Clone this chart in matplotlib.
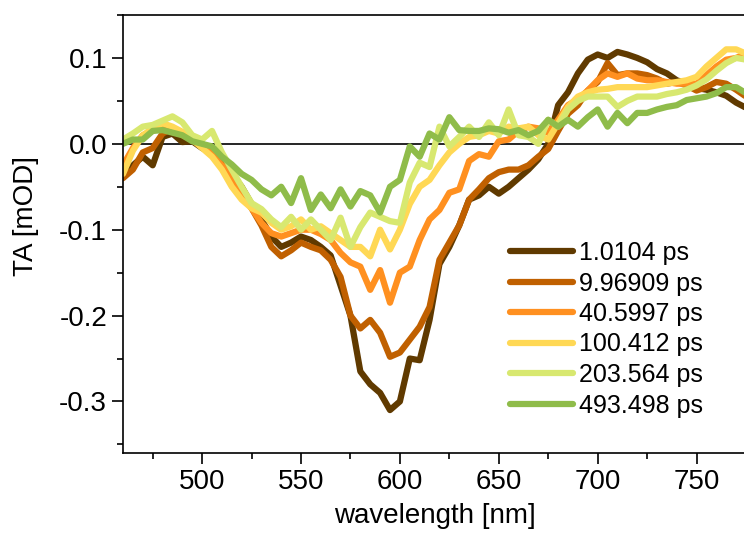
import numpy as np
import matplotlib
matplotlib.use("Agg")
import matplotlib.pyplot as plt
from matplotlib.ticker import MultipleLocator, FormatStrFormatter

plt.rcParams['font.family'] = ['Liberation Sans', 'DejaVu Sans']
plt.rcParams['axes.unicode_minus'] = False

# wavelength grid (nm)
wavelength = np.arange(460, 776, 5)

labels = ["1.0104 ps", "9.96909 ps", "40.5997 ps", "100.412 ps", "203.564 ps", "493.498 ps"]
colors = ["#603a00", "#c06000", "#ff9020", "#ffd855", "#d8e870", "#8fbc4a"]

ta_1ps = [-0.035, -0.025, -0.015, -0.025, 0.008, 0.012, 0.002, 0.003, -0.005, -0.010,
          -0.020, -0.035, -0.050, -0.070, -0.088, -0.108, -0.120, -0.115, -0.108, -0.112,
          -0.120, -0.130, -0.165, -0.200, -0.265, -0.280, -0.290, -0.310, -0.300, -0.250,
          -0.252, -0.205, -0.140, -0.120, -0.095, -0.065, -0.060, -0.050, -0.058, -0.050,
          -0.040, -0.030, -0.018, 0.000, 0.045, 0.060, 0.082, 0.098, 0.104, 0.100,
          0.107, 0.104, 0.100, 0.095, 0.087, 0.082, 0.074, 0.070, 0.065, 0.063,
          0.060, 0.056, 0.048, 0.042]

ta_10ps = [-0.040, -0.030, -0.010, -0.005, 0.012, 0.018, 0.010, 0.005, 0.000, -0.008,
           -0.020, -0.035, -0.055, -0.075, -0.095, -0.120, -0.131, -0.124, -0.115, -0.120,
           -0.124, -0.135, -0.155, -0.200, -0.215, -0.205, -0.220, -0.248, -0.243, -0.228,
           -0.213, -0.190, -0.135, -0.115, -0.095, -0.065, -0.053, -0.040, -0.033, -0.030,
           -0.030, -0.025, -0.015, -0.006, 0.015, 0.035, 0.045, 0.062, 0.072, 0.094,
           0.080, 0.082, 0.082, 0.080, 0.076, 0.070, 0.072, 0.068, 0.062, 0.066,
           0.072, 0.070, 0.063, 0.055]

ta_40ps = [-0.025, -0.005, 0.010, 0.015, 0.022, 0.015, 0.012, 0.005, -0.003, -0.012,
           -0.025, -0.040, -0.060, -0.075, -0.092, -0.104, -0.108, -0.104, -0.100, -0.100,
           -0.105, -0.112, -0.127, -0.138, -0.143, -0.170, -0.147, -0.185, -0.150, -0.143,
           -0.112, -0.088, -0.077, -0.057, -0.053, -0.020, -0.012, -0.015, 0.003, 0.005,
           0.015, 0.020, 0.018, 0.013, 0.028, 0.045, 0.052, 0.062, 0.074, 0.082,
           0.078, 0.082, 0.076, 0.074, 0.074, 0.072, 0.070, 0.070, 0.070, 0.080,
           0.090, 0.098, 0.100, 0.105]

ta_100ps = [-0.035, -0.008, 0.010, 0.018, 0.024, 0.020, 0.014, 0.005, -0.005, -0.015,
            -0.030, -0.050, -0.065, -0.075, -0.080, -0.092, -0.100, -0.096, -0.088, -0.100,
            -0.096, -0.104, -0.112, -0.120, -0.120, -0.131, -0.100, -0.123, -0.100, -0.070,
            -0.050, -0.042, -0.025, -0.010, 0.000, 0.008, 0.010, 0.015, 0.012, 0.020,
            0.018, 0.020, 0.010, 0.005, 0.024, 0.043, 0.055, 0.060, 0.063, 0.064,
            0.066, 0.066, 0.066, 0.066, 0.068, 0.070, 0.072, 0.074, 0.078, 0.090,
            0.100, 0.110, 0.110, 0.105]

ta_200ps = [0.005, 0.012, 0.020, 0.022, 0.027, 0.032, 0.025, 0.010, 0.005, 0.015,
            -0.010, -0.030, -0.050, -0.069, -0.076, -0.088, -0.097, -0.085, -0.100, -0.088,
            -0.100, -0.112, -0.086, -0.120, -0.097, -0.080, -0.085, -0.090, -0.092, -0.045,
            -0.022, -0.027, 0.020, -0.003, 0.008, 0.020, 0.008, 0.025, 0.010, 0.040,
            0.010, 0.008, 0.000, 0.028, 0.020, 0.040, 0.050, 0.055, 0.055, 0.055,
            0.043, 0.050, 0.055, 0.055, 0.055, 0.058, 0.060, 0.063, 0.068, 0.075,
            0.085, 0.094, 0.100, 0.098]

ta_490ps = [0.000, 0.005, 0.005, 0.015, 0.016, 0.013, 0.010, 0.003, 0.000, -0.003,
            -0.015, -0.024, -0.035, -0.042, -0.053, -0.060, -0.050, -0.069, -0.040, -0.077,
            -0.059, -0.075, -0.053, -0.073, -0.055, -0.060, -0.080, -0.050, -0.042, -0.003,
            -0.015, 0.012, 0.005, 0.031, 0.016, 0.015, 0.015, 0.018, 0.017, 0.013,
            0.016, 0.010, 0.015, 0.028, 0.020, 0.028, 0.020, 0.031, 0.040, 0.020,
            0.036, 0.024, 0.036, 0.036, 0.040, 0.043, 0.045, 0.051, 0.053, 0.055,
            0.059, 0.066, 0.066, 0.059]

spectra = [ta_1ps, ta_10ps, ta_40ps, ta_100ps, ta_200ps, ta_490ps]

fig = plt.figure(figsize=(7.44, 5.34), dpi=100)
# axes runs past the right edge of the figure, like the cropped original
ax = fig.add_axes([123 / 744, 1 - 453 / 534, 623 / 744, 438 / 534])

ax.axhline(0, color="black", lw=1.2, zorder=1)
for ta, col, lab in zip(spectra, colors, labels):
    ax.plot(wavelength, ta, color=col, lw=4.5, label=lab,
            solid_joinstyle="round", solid_capstyle="round", zorder=2)

ax.set_xlim(460, 775)
ax.set_ylim(-0.36, 0.15)

ax.xaxis.set_major_locator(MultipleLocator(50))
ax.xaxis.set_minor_locator(MultipleLocator(25))
ax.yaxis.set_major_locator(MultipleLocator(0.1))
ax.yaxis.set_minor_locator(MultipleLocator(0.05))
ax.yaxis.set_major_formatter(FormatStrFormatter("%.1f"))

ax.tick_params(which="both", direction="out", width=1.2, labelsize=20, top=False, right=False)
ax.tick_params(which="major", length=8)
ax.tick_params(which="minor", length=4)
for sp in ax.spines.values():
    sp.set_linewidth(1.2)

ax.set_xlabel("wavelength [nm]", fontsize=20, labelpad=6)
ax.set_ylabel("TA [mOD]", fontsize=20)
ax.yaxis.set_label_coords(-0.135, 0.54)

ax.legend(loc="upper left", bbox_to_anchor=(510 / 744, 1 - 241 / 534),
          bbox_transform=fig.transFigure, frameon=False, fontsize=18,
          handlelength=2.5, handletextpad=0.25, labelspacing=0.26,
          borderpad=0, borderaxespad=0)

fig.savefig("out.png", dpi=100)
